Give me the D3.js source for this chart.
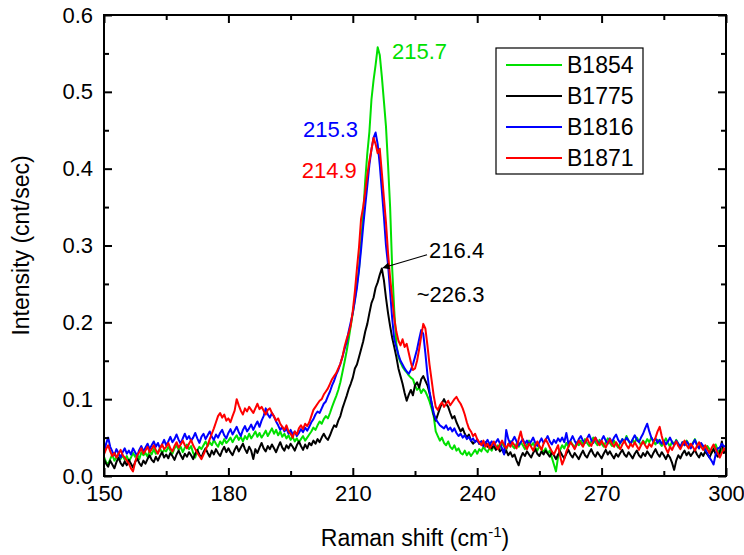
<!DOCTYPE html>
<html>
<head>
<meta charset="utf-8">
<script src="https://cdn.jsdelivr.net/npm/d3@7"></script>
<style>
  html, body { margin: 0; padding: 0; background: #fff; }
  svg { display: block; font-family: "Liberation Sans", Arial, sans-serif; }
</style>
</head>
<body>
<svg id="chart" width="744" height="555"></svg>
<script>
// ---------------- DATA ----------------
// Raman shift sampling grid (cm^-1)
const shiftStart = 150, shiftStep = 0.5;
const seriesNames = ["B1854", "B1775", "B1816", "B1871"];
const seriesColors = ["#00e000", "#000000", "#0000ff", "#ff0000"];

const B1854 = [
.025,.018,.015,.022,.028,.020,.024,.030,.022,.027,
.021,.026,.019,.024,.030,.025,.028,.022,.031,.027,
.030,.025,.033,.028,.035,.029,.031,.036,.030,.034,
.032,.038,.033,.029,.036,.040,.034,.038,.031,.037,
.041,.035,.039,.030,.024,.033,.038,.035,.040,.045,
.039,.044,.040,.047,.042,.038,.045,.041,.048,.043,
.046,.050,.044,.049,.053,.047,.051,.045,.052,.048,
.055,.049,.053,.058,.051,.056,.050,.054,.059,.052,
.057,.062,.055,.060,.053,.058,.051,.055,.049,.053,
.047,.051,.045,.049,.044,.048,.052,.046,.050,.054,
.058,.063,.060,.066,.071,.068,.074,.078,.075,.082,
.090,.097,.104,.112,.122,.135,.148,.162,.178,.195,
.212,.230,.250,.270,.305,.340,.385,.420,.448,.490,
.515,.535,.558,.548,.520,.488,.455,.405,.350,.270,
.215,.172,.155,.148,.142,.138,.135,.131,.128,.126,
.118,.112,.115,.108,.113,.110,.104,.097,.088,.078,
.058,.052,.046,.050,.043,.040,.045,.038,.035,.040,
.033,.036,.030,.028,.033,.027,.031,.026,.030,.034,
.029,.035,.032,.038,.034,.031,.037,.033,.039,.035,
.040,.036,.043,.038,.034,.041,.045,.039,.036,.042,
.038,.044,.040,.035,.041,.046,.039,.043,.037,.033,
.039,.035,.031,.036,.029,.033,.024,.015,.006,.025,
.034,.040,.036,.043,.038,.045,.041,.037,.044,.040,
.046,.041,.048,.043,.039,.045,.050,.044,.040,.047,
.042,.038,.044,.049,.043,.039,.046,.041,.037,.043,
.048,.044,.052,.046,.041,.047,.043,.050,.045,.040,
.046,.042,.048,.044,.050,.045,.041,.047,.043,.039,
.044,.049,.043,.038,.045,.041,.047,.042,.037,.044,
.040,.046,.042,.037,.043,.048,.041,.036,.042,.038,
.033,.039,.035,.030,.036,.041,.034,.029,.035,.031,
.036];

const B1775 = [
.022,.016,.012,.020,.015,.010,.018,.024,.017,.013,
.019,.014,.021,.016,.011,.018,.023,.017,.013,.020,
.016,.022,.027,.021,.018,.025,.020,.026,.031,.024,
.028,.023,.030,.026,.021,.028,.033,.027,.022,.029,
.025,.031,.027,.022,.029,.034,.028,.024,.031,.036,
.030,.025,.033,.028,.035,.030,.026,.033,.038,.031,
.036,.031,.027,.034,.039,.032,.037,.042,.035,.030,
.038,.033,.022,.035,.030,.037,.043,.036,.032,.039,
.035,.041,.036,.031,.038,.044,.037,.033,.040,.036,
.042,.038,.033,.040,.045,.039,.034,.041,.036,.043,
.040,.046,.042,.048,.044,.050,.055,.050,.047,.053,
.060,.066,.064,.072,.078,.088,.096,.104,.113,.120,
.128,.140,.145,.155,.165,.175,.188,.198,.212,.225,
.232,.245,.252,.262,.270,.255,.232,.212,.195,.180,
.168,.155,.140,.130,.120,.108,.098,.106,.112,.105,
.118,.122,.115,.126,.130,.124,.118,.108,.095,.080,
.072,.080,.088,.095,.100,.094,.090,.082,.075,.078,
.070,.064,.058,.062,.055,.050,.054,.046,.042,.045,
.047,.042,.045,.040,.044,.038,.042,.036,.040,.034,
.037,.032,.035,.029,.033,.027,.031,.025,.028,.020,
.014,.024,.030,.026,.032,.028,.024,.030,.035,.029,
.026,.032,.028,.033,.029,.025,.031,.027,.022,.028,
.032,.027,.023,.029,.034,.028,.024,.030,.026,.022,
.028,.033,.027,.024,.030,.035,.029,.025,.031,.027,
.023,.029,.034,.028,.032,.027,.023,.029,.025,.030,
.034,.028,.025,.031,.027,.023,.029,.033,.027,.024,
.030,.026,.032,.028,.024,.030,.035,.029,.025,.031,
.027,.022,.028,.024,.017,.008,.020,.027,.023,.029,
.033,.027,.031,.026,.030,.034,.028,.024,.030,.026,
.032,.028,.024,.030,.035,.029,.025,.031,.045,.030,
.034];

const B1816 = [
.030,.042,.050,.038,.032,.027,.035,.030,.024,.031,
.036,.029,.033,.028,.036,.031,.026,.034,.039,.032,
.037,.042,.035,.040,.045,.038,.043,.036,.041,.047,
.040,.045,.051,.044,.048,.054,.047,.042,.049,.055,
.048,.052,.046,.050,.056,.049,.043,.051,.055,.048,
.053,.058,.051,.047,.054,.050,.056,.060,.053,.049,
.056,.061,.054,.059,.064,.057,.052,.060,.065,.058,
.062,.067,.060,.066,.071,.064,.072,.078,.088,.080,
.076,.082,.077,.071,.066,.060,.064,.058,.062,.055,
.060,.054,.058,.052,.056,.061,.057,.063,.059,.064,
.070,.074,.080,.084,.082,.088,.094,.097,.104,.110,
.118,.124,.132,.138,.146,.155,.165,.174,.188,.200,
.212,.228,.245,.268,.295,.325,.352,.378,.405,.425,
.440,.447,.432,.405,.372,.338,.300,.275,.240,.205,
.178,.168,.158,.150,.145,.140,.136,.133,.138,.145,
.155,.165,.178,.190,.185,.160,.132,.110,.095,.082,
.074,.070,.066,.064,.062,.066,.060,.063,.058,.062,
.056,.052,.055,.050,.053,.048,.051,.046,.049,.044,
.047,.042,.045,.039,.043,.047,.041,.045,.040,.044,
.048,.042,.036,.028,.060,.048,.042,.046,.051,.045,
.040,.044,.048,.042,.046,.041,.045,.050,.043,.039,
.044,.049,.043,.047,.052,.045,.041,.047,.043,.049,
.045,.050,.044,.056,.042,.046,.052,.046,.041,.048,
.052,.046,.043,.049,.054,.047,.043,.050,.045,.041,
.047,.052,.046,.042,.049,.044,.050,.054,.047,.043,
.048,.044,.050,.046,.042,.048,.053,.047,.044,.050,
.055,.062,.068,.058,.050,.045,.049,.043,.047,.042,
.046,.041,.045,.050,.044,.040,.046,.042,.038,.044,
.040,.045,.041,.036,.042,.047,.040,.036,.043,.039,
.034,.030,.024,.020,.015,.028,.036,.037,.042,.038,
.040];

const B1871 = [
.028,.035,.040,.032,.026,.030,.024,.029,.034,.027,
.024,.020,.016,.010,.006,.018,.027,.031,.036,.029,
.033,.038,.031,.035,.040,.034,.029,.036,.041,.035,
.038,.043,.036,.032,.039,.044,.037,.041,.046,.040,
.036,.042,.047,.040,.035,.030,.026,.022,.028,.034,
.040,.048,.055,.062,.070,.078,.082,.076,.080,.072,
.075,.070,.078,.085,.100,.092,.085,.080,.088,.084,
.090,.086,.082,.088,.094,.087,.090,.085,.080,.086,
.088,.082,.078,.072,.075,.068,.064,.060,.066,.058,
.055,.050,.058,.054,.062,.066,.061,.068,.065,.070,
.078,.086,.090,.094,.098,.100,.106,.110,.114,.120,
.126,.130,.134,.140,.146,.155,.168,.178,.186,.196,
.215,.240,.270,.298,.335,.350,.370,.392,.410,.425,
.440,.432,.420,.426,.395,.362,.330,.290,.258,.232,
.205,.188,.176,.170,.178,.168,.172,.160,.148,.138,
.140,.150,.165,.182,.198,.192,.170,.145,.125,.105,
.090,.086,.092,.096,.090,.094,.098,.092,.096,.100,
.103,.098,.094,.088,.080,.070,.062,.058,.052,.055,
.048,.044,.040,.046,.038,.042,.036,.040,.045,.039,
.035,.041,.046,.040,.036,.042,.038,.044,.040,.036,
.048,.058,.046,.040,.035,.042,.038,.033,.040,.045,
.039,.034,.042,.048,.043,.037,.032,.028,.034,.040,
.026,.015,.022,.032,.038,.044,.040,.035,.041,.046,
.042,.038,.044,.049,.043,.039,.045,.050,.044,.040,
.046,.041,.037,.043,.048,.042,.038,.044,.039,.035,
.041,.046,.040,.036,.042,.038,.044,.039,.034,.040,
.045,.040,.036,.042,.038,.044,.050,.058,.064,.052,
.042,.036,.030,.038,.034,.040,.045,.039,.035,.041,
.046,.040,.036,.042,.038,.033,.039,.044,.038,.034,
.040,.035,.030,.036,.041,.035,.030,.024,.030,.036,
.032];

const xTicks = [150, 180, 210, 240, 270, 300];
const xMinorTicks = [165, 195, 225, 255, 285];
const yTicks = [0, 0.1, 0.2, 0.3, 0.4, 0.5, 0.6];
const yMinorTicks = [0.05, 0.15, 0.25, 0.35, 0.45, 0.55];

// peak annotations: [text, x, y, color]
const peakLabels = [
  ["215.7", 219.45, 0.543, "#00e000"],
  ["215.3", 198.0, 0.441, "#0000ff"],
  ["214.9", 197.7, 0.388, "#ff0000"],
  ["216.4", 228.4, 0.284, "#000000"],
  ["~226.3", 225.4, 0.226, "#000000"]
];
const arrowFrom = [227.9, 0.288];
const arrowTo = [217.3, 0.271];

// ---------------- CHART ----------------
const allSeries = [B1854, B1775, B1816, B1871];
const svg = d3.select("#chart");
const L = 104, R = 726, T = 15, B = 476;

const x = d3.scaleLinear().domain([150, 300]).range([L, R]);
const y = d3.scaleLinear().domain([0, 0.6]).range([B, T]);

svg.append("defs").append("clipPath").attr("id", "clip")
  .append("rect").attr("x", L).attr("y", T).attr("width", R - L).attr("height", B - T);

const line = d3.line()
  .x((d, i) => x(shiftStart + i * shiftStep))
  .y(d => y(d));

const plot = svg.append("g").attr("clip-path", "url(#clip)");
allSeries.forEach((s, k) => {
  plot.append("path")
    .attr("d", line(s))
    .attr("fill", "none")
    .attr("stroke", seriesColors[k])
    .attr("stroke-width", 2)
    .attr("stroke-linejoin", "round");
});

// axes
function styleAxis(g) {
  g.select(".domain").remove();
  g.selectAll(".tick line").attr("stroke", "#000").attr("stroke-width", 2);
  g.selectAll(".tick text").attr("fill", "#000").attr("font-size", 22)
    .attr("font-family", "'Liberation Sans', Arial, sans-serif");
}
const fmtY = d3.format(".1f");

svg.append("g").attr("transform", `translate(0,${B})`)
  .call(d3.axisBottom(x).tickValues(xTicks).tickSize(-8).tickPadding(9).tickFormat(d3.format("d")))
  .call(styleAxis);
svg.append("g").attr("transform", `translate(0,${B})`)
  .call(d3.axisBottom(x).tickValues(xMinorTicks).tickSize(-5).tickFormat(""))
  .call(styleAxis);
svg.append("g").attr("transform", `translate(0,${T})`)
  .call(d3.axisTop(x).tickValues(xTicks).tickSize(-8).tickFormat(""))
  .call(styleAxis);
svg.append("g").attr("transform", `translate(0,${T})`)
  .call(d3.axisTop(x).tickValues(xMinorTicks).tickSize(-5).tickFormat(""))
  .call(styleAxis);

svg.append("g").attr("transform", `translate(${L},0)`)
  .call(d3.axisLeft(y).tickValues(yTicks).tickSize(-8).tickPadding(11).tickFormat(fmtY))
  .call(styleAxis);
svg.append("g").attr("transform", `translate(${L},0)`)
  .call(d3.axisLeft(y).tickValues(yMinorTicks).tickSize(-5).tickFormat(""))
  .call(styleAxis);
svg.append("g").attr("transform", `translate(${R},0)`)
  .call(d3.axisRight(y).tickValues(yTicks).tickSize(-8).tickFormat(""))
  .call(styleAxis);
svg.append("g").attr("transform", `translate(${R},0)`)
  .call(d3.axisRight(y).tickValues(yMinorTicks).tickSize(-5).tickFormat(""))
  .call(styleAxis);

// frame
svg.append("rect").attr("x", L).attr("y", T).attr("width", R - L).attr("height", B - T)
  .attr("fill", "none").attr("stroke", "#000").attr("stroke-width", 2);

// axis titles
const xt = svg.append("text").attr("x", 415).attr("y", 546)
  .attr("text-anchor", "middle").attr("font-size", 23).attr("fill", "#000");
xt.append("tspan").text("Raman shift (cm");
xt.append("tspan").attr("dy", -9).attr("font-size", 15).text("-1");
xt.append("tspan").attr("dy", 9).text(")");

svg.append("text")
  .attr("transform", `translate(29,${(T + B) / 2}) rotate(-90)`)
  .attr("text-anchor", "middle").attr("font-size", 23).attr("fill", "#000")
  .text("Intensity (cnt/sec)");

// peak labels
peakLabels.forEach(([t, px, py, c]) => {
  svg.append("text").attr("x", x(px)).attr("y", y(py))
    .attr("font-size", 22).attr("fill", c).text(t);
});

// arrow
svg.select("defs").append("marker").attr("id", "arrowhead")
  .attr("viewBox", "0 0 10 10").attr("refX", 9).attr("refY", 5)
  .attr("markerWidth", 9).attr("markerHeight", 7).attr("markerUnits", "userSpaceOnUse")
  .attr("orient", "auto")
  .append("path").attr("d", "M0,0 L10,5 L0,10 z").attr("fill", "#000");
svg.append("line")
  .attr("x1", x(arrowFrom[0])).attr("y1", y(arrowFrom[1]))
  .attr("x2", x(arrowTo[0])).attr("y2", y(arrowTo[1]))
  .attr("stroke", "#000").attr("stroke-width", 1.2)
  .attr("marker-end", "url(#arrowhead)");

// legend
const lg = svg.append("g");
lg.append("rect").attr("x", 496).attr("y", 48).attr("width", 147).attr("height", 126)
  .attr("fill", "#fff").attr("stroke", "#000").attr("stroke-width", 1.2);
seriesNames.forEach((n, k) => {
  const cy = 65 + k * 31;
  lg.append("line").attr("x1", 506).attr("x2", 562).attr("y1", cy).attr("y2", cy)
    .attr("stroke", seriesColors[k]).attr("stroke-width", 2);
  lg.append("text").attr("x", 567).attr("y", cy).attr("dy", "0.36em")
    .attr("font-size", 23).attr("fill", "#000").text(n);
});
</script>
</body>
</html>
